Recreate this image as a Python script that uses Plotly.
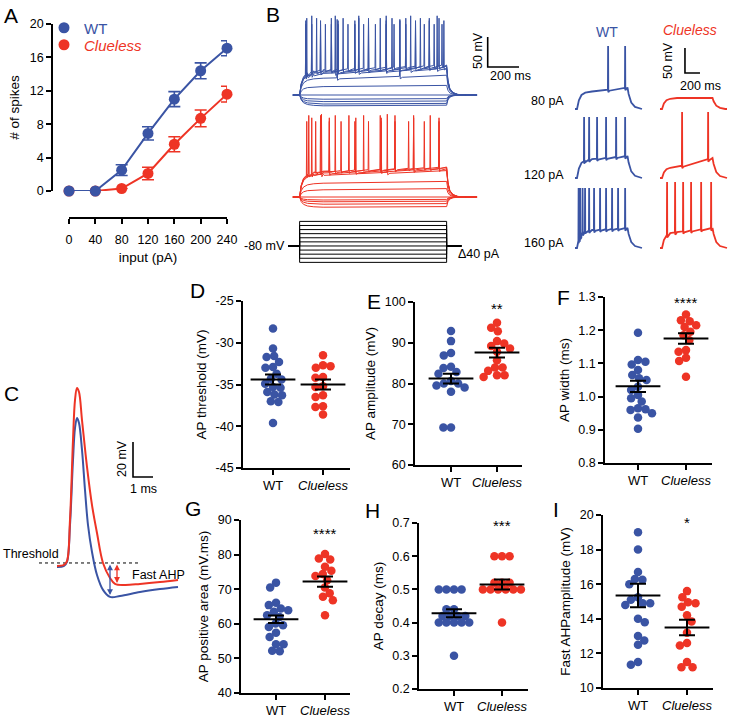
import plotly.graph_objects as go

W, H = 730, 719
BLUE = '#3A54A4'
RED = '#EE3425'
FONT = 'Arial, Liberation Sans, Helvetica, sans-serif'

# ---------------- data ----------------
# A: spikes vs injected current
input_pa = [0, 40, 80, 120, 160, 200, 240]
wt_spikes = [0, 0, 2.5, 6.9, 11.0, 14.4, 17.1]
wt_spikes_sem = [0, 0, 0.65, 0.8, 0.9, 0.95, 0.9]
cl_spikes = [0, 0, 0.3, 2.1, 5.6, 8.7, 11.6]
cl_spikes_sem = [0, 0, 0, 0.75, 0.9, 1.0, 0.95]

# B left: current-step family (pA), steady levels (mV), spike times (ms), spike peaks (mV)
step_pa = [-160, -120, -80, -40, 0, 40, 80, 120, 160, 200, 240]
wt_level_start = [-98, -95, -91, -87, -80, -66, -52, -44, -42, -40, -38]
wt_level_end = [-97, -94, -90, -86, -80, -64, -47, -36, -34, -32, -30]
wt_spike_times = [[], [], [], [], [], [], [300, 700],
                  [138, 288, 438, 613, 769, 938],
                  [100, 194, 306, 413, 500, 613, 700, 800, 888, 981],
                  [106, 169, 263, 338, 438, 500, 575, 650, 738, 831, 888, 950],
                  [100, 138, 194, 225, 263, 306, 369, 413, 469, 544, 613, 663, 738, 800, 856, 919, 969]]
wt_peak = [0, 0, 0, 0, 0, 0, 46, 52, 44, 48, 38]
cl_level_start = [-97, -92, -88, -85, -80, -68, -57, -42, -40, -38, -37]
cl_level_end = [-96, -91, -87, -84, -80, -66, -54, -36, -33, -31, -30]
cl_spike_times = [[], [], [], [], [], [], [],
                  [200, 620],
                  [138, 250, 419, 581, 788, 950],
                  [119, 194, 288, 375, 469, 575, 669, 788, 894],
                  [106, 163, 250, 325, 413, 500, 581, 669, 756, 856, 950]]
cl_peak = [0, 0, 0, 0, 0, 0, 0, 58, 52, 56, 46]

# B right: example traces at 80/120/160 pA
ex_labels = ['80 pA', '120 pA', '160 pA']
ex_wt_start = [-45, -42, -44]
ex_wt_end = [-37, -36, -40]
ex_wt_spikes = [[440, 667],
                [120, 187, 293, 413, 547, 667],
                [47, 67, 100, 133, 187, 253, 333, 413, 493, 573, 667]]
ex_wt_peak = [46, 42, 40]
ex_cl_start = [-58, -58, -48]
ex_cl_end = [-58, -40, -40]
ex_cl_spikes = [[], [293, 640], [93, 200, 307, 413, 547, 680]]
ex_cl_peak = [50, 52, 52]

# C: averaged action potential (ms, mV relative to threshold)
ap_t_cl = [0, 0.35, 0.5, 0.65, 0.8, 0.9, 1.0, 1.1, 1.25, 1.5, 1.75, 2.0, 2.3, 2.65, 2.9, 3.4, 4.15, 5.15, 6.05]
ap_v_cl = [-1.7, -1.1, 1.1, 24.6, 70.3, 93.1, 100, 97.7, 81.7, 54.9, 33.1, 17.1, 0, -8.6, -12, -12.6, -12, -10.9, -9.7]
ap_t_wt = [0, 0.35, 0.5, 0.65, 0.8, 0.9, 1.0, 1.1, 1.25, 1.4, 1.55, 1.75, 2.0, 2.3, 2.65, 3.15, 4.15, 5.15, 6.05]
ap_v_wt = [-2.3, -1.7, 0.6, 21.7, 58.9, 77.1, 82.9, 80, 64.6, 41.7, 21.7, 6.3, -6.9, -15.4, -19.4, -18.9, -16.6, -14.9, -13.7]
ahp_wt, ahp_cl = -18.3, -11.4

# D-I: individual cells
d_wt = [-28.3, -30.7, -31.6, -31.7, -32.3, -32.9, -33.0, -33.7, -34.3, -34.4, -34.9, -35.3, -35.4, -35.9, -36.2, -36.3, -37.0, -37.1, -39.6]
d_cl = [-31.5, -32.7, -32.8, -33.0, -34.1, -34.2, -35.2, -35.3, -36.3, -36.5, -37.6, -37.7, -38.6]
e_wt = [92.9, 90.4, 87.5, 86.9, 84.1, 83.8, 82.8, 82.4, 80.6, 80.0, 80.0, 79.5, 79.0, 78.0, 69.2, 69.2]
e_cl = [94.9, 93.7, 92.8, 90.4, 89.8, 89.2, 88.6, 87.8, 85.7, 83.9, 83.9, 83.1, 82.0, 82.0, 81.6]
f_wt = [1.192, 1.110, 1.105, 1.097, 1.080, 1.065, 1.055, 1.050, 1.030, 1.020, 1.005, 0.995, 0.985, 0.965, 0.962, 0.960, 0.950, 0.937, 0.903]
f_cl = [1.247, 1.230, 1.227, 1.215, 1.210, 1.195, 1.185, 1.170, 1.140, 1.135, 1.117, 1.107, 1.060]
g_wt = [71.9, 70.5, 66.1, 65.4, 64.4, 63.9, 63.5, 62.5, 62.0, 60.1, 59.6, 59.1, 57.4, 56.2, 54.1, 54.1, 52.2, 52.1]
g_cl = [80.2, 78.9, 78.6, 76.5, 75.3, 74.4, 73.8, 72.6, 70.5, 68.8, 67.8, 66.8, 62.5]
h_wt = [0.50, 0.50, 0.50, 0.50, 0.44, 0.44, 0.42, 0.42, 0.42, 0.42, 0.40, 0.40, 0.40, 0.40, 0.40, 0.30]
h_cl = [0.60, 0.60, 0.60, 0.52, 0.52, 0.52, 0.50, 0.50, 0.50, 0.50, 0.50, 0.50, 0.50, 0.40]
i_wt = [19.0, 18.0, 16.7, 16.3, 16.25, 16.0, 15.25, 15.1, 14.9, 14.9, 14.8, 14.0, 13.8, 13.0, 12.75, 12.5, 11.5, 11.35]
i_cl = [15.6, 15.25, 14.95, 14.9, 14.7, 14.2, 13.85, 13.2, 12.6, 12.45, 11.5, 11.2, 11.2]

# mean and SEM per group [WT, Clueless]
d_mean, d_sem = [-34.4, -35.0], [0.6, 0.6]
e_mean, e_sem = [81.2, 87.6], [1.2, 1.2]
f_mean, f_sem = [1.031, 1.175], [0.017, 0.016]
g_mean, g_sem = [61.3, 72.2], [1.1, 1.5]
h_mean, h_sem = [0.428, 0.515], [0.012, 0.015]
i_mean, i_sem = [15.35, 13.5], [0.68, 0.45]
stars = ['', '**', '****', '****', '***', '*']

# ---------------- helpers ----------------
fig = go.Figure()
layout = {}
annots = []


def fx(p):
    return p / W


def fy(p):
    return 1 - p / H


def make_axes(i, x0, x1, y0, y1, xr, yr):
    s = '' if i == 1 else str(i)
    layout['xaxis' + s] = dict(domain=[fx(x0), fx(x1)], range=xr, anchor='y' + s, automargin=False,
                               visible=False, showgrid=False, zeroline=False)
    layout['yaxis' + s] = dict(domain=[fy(y1), fy(y0)], range=yr, anchor='x' + s, automargin=False,
                               visible=False, showgrid=False, zeroline=False)
    return 'x' + s, 'y' + s


def text(px, py, t, size=12.5, color='black', xanchor='center', angle=0):
    annots.append(dict(x=fx(px), y=fy(py), xref='paper', yref='paper', text=t, showarrow=False,
                       xanchor=xanchor, yanchor='middle', textangle=angle,
                       font=dict(size=size, color=color, family=FONT)))


def line(xa, ya, xs, ys, color, width, dash=None, shape='linear'):
    fig.add_trace(go.Scatter(x=xs, y=ys, mode='lines', xaxis=xa, yaxis=ya, showlegend=False,
                             hoverinfo='skip', cliponaxis=False,
                             line=dict(color=color, width=width, dash=dash, shape=shape)))


def interp(t, ts, vs):
    if t <= ts[0]:
        return vs[0]
    for k in range(1, len(ts)):
        if t <= ts[k]:
            return vs[k - 1] + (vs[k] - vs[k - 1]) * (t - ts[k - 1]) / (ts[k] - ts[k - 1])
    return vs[-1]


def step_trace(rest, v0, v1, spikes, peak, t_begin, t_on, t_off, t_end, charge, decay, ahp=4):
    ct = [t_on + c[0] for c in charge] + [t_off]
    cv = [rest + (v0 - rest) * c[1] for c in charge] + [v1]
    pts = [(t_begin, rest)] + list(zip(ct, cv))
    for s in spikes:
        b = interp(s, ct, cv)
        pts += [(s - 1, b), (s + 1.5, peak), (s + 4, b - ahp), (s + 18, b - ahp * 0.4)]
    pts.sort()
    pts += [(t_off + d[0], v1 + (rest - v1) * d[1]) for d in decay[1:]]
    pts.append((t_end, rest))
    return [p[0] for p in pts], [p[1] for p in pts]


def swarm(vals, ppu, dia):
    placed, xs = [], []
    for n, v in enumerate(vals):
        y = v * ppu
        cands = [0.0]
        for px, py in placed:
            dy = abs(py - y)
            if dy < dia:
                dx = (dia ** 2 - dy ** 2) ** 0.5
                cands += [px + dx, px - dx]
        sign = 1 if n % 2 else -1
        cands.sort(key=lambda c: (round(abs(c), 3), sign * c))
        for c in cands:
            if all((c - px) ** 2 + (y - py) ** 2 >= dia ** 2 - 1e-6 for px, py in placed):
                break
        placed.append((c, y))
        xs.append(c)
    return xs


axis_style = dict(visible=True, showline=True, linecolor='black', linewidth=1.6, ticks='outside',
                  ticklen=5, tickwidth=1.6, tickcolor='black', automargin=False,
                  tickfont=dict(size=12.5, color='black', family=FONT),
                  title_font=dict(size=13.5, color='black', family=FONT))

# ---------------- A ----------------
xa, ya = make_axes(1, 69, 227, 24, 191, [0, 240], [0, 20])
for vals, sem, col in [(cl_spikes, cl_spikes_sem, RED), (wt_spikes, wt_spikes_sem, BLUE)]:
    fig.add_trace(go.Scatter(x=input_pa, y=vals, mode='lines+markers', xaxis=xa, yaxis=ya,
                             cliponaxis=False, showlegend=False,
                             line=dict(color=col, width=2), marker=dict(size=11, color=col),
                             error_y=dict(type='data', array=sem, color=col, thickness=1.6, width=6)))
for name, col, lg in [('WT', BLUE, 'legend'), ('<i>Clueless</i>', RED, 'legend2')]:
    fig.add_trace(go.Scatter(x=[None], y=[None], mode='markers', xaxis=xa, yaxis=ya, legend=lg,
                             marker=dict(size=11, color=col),
                             name=f"<span style='color:{col}'>{name}</span>"))
layout['xaxis'].update(axis_style, anchor='free', position=fy(218), tickvals=input_pa,
                       ticklabelstandoff=5, title=dict(text='input (pA)', standoff=6))
layout['yaxis'].update(axis_style, anchor='free', position=fx(52), tickvals=[0, 4, 8, 12, 16, 20],
                       title=dict(text='# of spikes', standoff=6))

# ---------------- B left ----------------
charge_l = [(0, 0), (10, 0.45), (25, 0.72), (50, 0.88), (90, 0.96), (150, 1.0)]
decay_l = [(0, 0), (8, 0.5), (20, 0.78), (40, 0.92), (70, 0.98), (120, 1.0)]
bx = [-31.25, 1500]
xb, yb = make_axes(2, 285, 525, 8, 110, bx, [-105, 65])
xr_, yr_ = make_axes(3, 285, 525, 110, 212, bx, [-105, 65])
xp, yp = make_axes(4, 285, 525, 214, 264, bx, [-176, 312])
for k in range(len(step_pa)):
    ts, vs = step_trace(-80, wt_level_start[k], wt_level_end[k], wt_spike_times[k], wt_peak[k],
                        19, 62, 1000, 1194, charge_l, decay_l)
    line(xb, yb, ts, vs, BLUE, 1)
    ts, vs = step_trace(-80, cl_level_start[k], cl_level_end[k], cl_spike_times[k], cl_peak[k],
                        19, 62, 1000, 1194, charge_l, decay_l)
    line(xr_, yr_, ts, vs, RED, 1)
    line(xp, yp, [-12, 62, 62, 1000, 1000, 1094], [0, 0, step_pa[k], step_pa[k], 0, 0], 'black', 1)
# scale bar 50 mV / 200 ms
line(xb, yb, [1262, 1262, 1462], [16.7, -33.3, -33.3], 'black', 1.6)
text(478, 51, '50 mV', angle=-90)
text(511, 76, '200 ms')
text(287, 246, '-80 mV', xanchor='right')
text(456, 254, 'Δ40 pA', xanchor='left')

# ---------------- B right ----------------
charge_r = [(0, 0), (25, 0.5), (60, 0.8), (110, 0.93), (200, 1.0)]
decay_r = [(0, 0), (15, 0.3), (50, 0.7), (100, 0.9), (170, 1.0)]
row_off = [0, -138, -278]
xw, yw = make_axes(5, 568, 647, 38, 256, [-93, 960], [-374, 62])
xc, yc = make_axes(6, 653, 730, 38, 256, [-93, 933], [-374, 62])
for r in range(3):
    ts, vs = step_trace(-80, ex_wt_start[r], ex_wt_end[r], ex_wt_spikes[r], ex_wt_peak[r],
                        0, 27, 700, 893, charge_r, decay_r, ahp=5)
    line(xw, yw, ts, [v + row_off[r] for v in vs], BLUE, 1.8)
    ts, vs = step_trace(-80, ex_cl_start[r], ex_cl_end[r], ex_cl_spikes[r], ex_cl_peak[r],
                        0, 27, 700, 893, charge_r, decay_r, ahp=5)
    line(xc, yc, ts, [v + row_off[r] for v in vs], RED, 1.8)
line(xc, yc, [333, 333, 533], [42, -8, -8], 'black', 1.6)
text(668, 61, '50 mV', angle=-90)
text(700, 86, '200 ms')
text(607, 32, 'WT', size=14, color=BLUE)
text(690, 30, '<i>Clueless</i>', size=14, color=RED)
for r, py in enumerate([101, 175, 243]):
    text(566, py, ex_labels[r], xanchor='right')

# ---------------- C ----------------
xcc, ycc = make_axes(7, 0, 190, 370, 620, [-2.85, 6.65], [-32.6, 110.3])
line(xcc, ycc, [-0.9, 4.15], [0, 0], 'black', 1, dash='dot')
line(xcc, ycc, ap_t_wt, ap_v_wt, BLUE, 2, shape='spline')
line(xcc, ycc, ap_t_cl, ap_v_cl, RED, 2, shape='spline')
for t_a, v_a, col in [(2.65, ahp_wt, BLUE), (3.0, ahp_cl, RED)]:
    annots.append(dict(x=t_a, y=v_a, ax=t_a, ay=0, xref=xcc, yref=ycc, axref=xcc, ayref=ycc,
                       text='', showarrow=True, arrowhead=2, arrowside='end+start',
                       arrowsize=0.9, arrowwidth=1.3, arrowcolor=col, standoff=0, startstandoff=0))
line(xcc, ycc, [3.8, 3.8, 4.8], [69.1, 49.1, 49.1], 'black', 1.6)
text(122, 459, '20 mV', angle=-90)
text(143, 489, '1 ms')
text(61, 554, 'Threshold', xanchor='right')
text(130, 575, 'Fast AHP', xanchor='left')

# ---------------- D-I ----------------
panels = [
    (d_wt, d_cl, d_mean, d_sem, [-45, -25], [-45, -40, -35, -30, -25], 'AP threshold (mV)', None),
    (e_wt, e_cl, e_mean, e_sem, [60, 100], [60, 70, 80, 90, 100], 'AP amplitude (mV)', 98.3),
    (f_wt, f_cl, f_mean, f_sem, [0.8, 1.3], [0.8, 0.9, 1.0, 1.1, 1.2, 1.3], 'AP width (ms)', 1.283),
    (g_wt, g_cl, g_mean, g_sem, [40, 90], [40, 50, 60, 70, 80, 90], 'AP positive area (mV.ms)', 86.2),
    (h_wt, h_cl, h_mean, h_sem, [0.2, 0.7], [0.2, 0.3, 0.4, 0.5, 0.6, 0.7], 'AP decay (ms)', 0.692),
    (i_wt, i_cl, i_mean, i_sem, [10, 20], [10, 12, 14, 16, 18, 20], 'Fast AHPamplitude (mV)', 19.55),
]
# axis px, WT px, Clueless px, right px, top px, bottom px
geom = [(243, 273, 323, 350, 301, 468), (415, 451, 497, 522, 302, 465),
        (605, 638, 686, 712, 297, 463), (241, 276, 325, 350, 520, 693),
        (419, 454, 502, 528, 523, 689), (603, 638, 687, 713, 515, 688)]
for n, (wt, cl, mn, se, yr, tv, ttl, sy) in enumerate(panels):
    ax, pw, pc, rt, top, bot = geom[n]
    sc = pc - pw
    xa, ya = make_axes(8 + n, ax, rt, top, bot, [(ax - pw) / sc, 1 + (rt - pc) / sc], yr)
    ppu = (bot - top) / (yr[1] - yr[0])
    for k, (vals, col) in enumerate([(wt, BLUE), (cl, RED)]):
        offs = swarm(vals, ppu, 7.6)
        fig.add_trace(go.Scatter(x=[k + o / sc for o in offs], y=vals, mode='markers',
                                 xaxis=xa, yaxis=ya, cliponaxis=False, showlegend=False,
                                 marker=dict(size=8.5, color=col)))
    fig.add_trace(go.Scatter(x=[0, 1], y=mn, mode='markers', xaxis=xa, yaxis=ya, cliponaxis=False,
                             showlegend=False,
                             marker=dict(symbol='line-ew', size=32, line=dict(width=2, color='black')),
                             error_y=dict(type='data', array=se, color='black', thickness=2, width=8)))
    s = str(8 + n)
    dec = 1 if (yr[1] - yr[0]) < 2 else 0
    layout['xaxis' + s].update(axis_style, tickvals=[0, 1], ticktext=['WT', '<i>Clueless</i>'],
                               tickfont=dict(size=13, color='black', family=FONT))
    layout['yaxis' + s].update(axis_style, tickvals=tv,
                               ticktext=[f'{v:.{dec}f}' for v in tv],
                               title=dict(text=ttl, standoff=6))
    if sy is not None:
        annots.append(dict(x=1, y=sy, xref=xa, yref=ya, text=stars[n], showarrow=False,
                           yanchor='middle', font=dict(size=15, color='black', family=FONT)))

# panel letters
for ch, px, py in [('A', 11, 16), ('B', 273, 15), ('C', 11, 393), ('D', 197, 290), ('E', 374, 301),
                   ('F', 563, 297), ('G', 193, 508), ('H', 372, 510), ('I', 556, 509)]:
    text(px, py, ch, size=21)

leg = dict(xanchor='left', yanchor='middle', font=dict(size=15, family=FONT),
           bgcolor='rgba(0,0,0,0)', itemwidth=30, borderwidth=0)
fig.update_layout(**layout)
fig.update_layout(width=W, height=H, margin=dict(l=0, r=0, t=0, b=0, autoexpand=False),
                  paper_bgcolor='white', plot_bgcolor='white',
                  font=dict(family=FONT, color='black'), annotations=annots, showlegend=True,
                  legend=dict(leg, x=fx(44), y=fy(28)),
                  legend2=dict(leg, x=fx(44), y=fy(45)))
fig.write_html("out.html", config={'displayModeBar': False},
               post_script="document.body.style.margin='0';")
